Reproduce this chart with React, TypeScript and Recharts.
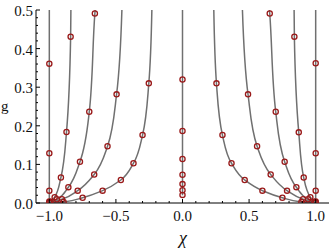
import React from 'react';
import { ComposedChart, Line, XAxis, YAxis } from 'recharts';

type P = [number, number];

// Axis ticks
const xMajor = [-1.0, -0.5, 0.0, 0.5, 1.0];
const xMinor = [-0.9, -0.8, -0.7, -0.6, -0.4, -0.3, -0.2, -0.1, 0.1, 0.2, 0.3, 0.4, 0.6, 0.7, 0.8, 0.9];
const yMajor = [0.0, 0.1, 0.2, 0.3, 0.4, 0.5];
const yMinor = [0.02, 0.04, 0.06, 0.08, 0.12, 0.14, 0.16, 0.18, 0.22, 0.24, 0.26, 0.28, 0.32, 0.34, 0.36, 0.38, 0.42, 0.44, 0.46, 0.48];

// Curves: [chi, g]; line = bottom end, markers (ascending g), top end
const c1LMarks: P[] = [[-1.0, 0.001], [-1.0, 0.004], [-1.0, 0.032], [-1.0, 0.129], [-1.0, 0.361]];
const c1LEnds: P[] = [[-1.0, 0.0], [-1.0, 0.5]];
const c2LMarks: P[] = [[-0.99, 0.003], [-0.96, 0.015], [-0.913, 0.066], [-0.871, 0.184], [-0.84, 0.431]];
const c2LEnds: P[] = [[-1.0, 0.0], [-0.838, 0.5]];
const c3LMarks: P[] = [[-0.943, 0.0096], [-0.857, 0.041], [-0.77, 0.107], [-0.7, 0.2365], [-0.658, 0.491]];
const c3LEnds: P[] = [[-1.0, 0.0], [-0.656, 0.5]];
const c4LMarks: P[] = [[-0.905, 0.0096], [-0.787, 0.032], [-0.663, 0.074], [-0.563, 0.147], [-0.495, 0.2815]];
const c4LEnds: P[] = [[-1.0, 0.0], [-0.455, 0.5]];
const c5LMarks: P[] = [[-0.893, 0.0026], [-0.75, 0.0137], [-0.6, 0.032], [-0.463, 0.0596], [-0.368, 0.103], [-0.3, 0.176], [-0.253, 0.31]];
const c5LEnds: P[] = [[-1.0, 0.0], [-0.23, 0.5]];

const c0Marks: P[] = [[0, 0.021], [0, 0.033], [0, 0.049], [0, 0.073], [0, 0.114], [0, 0.1865], [0, 0.32]];
const c0Ends: P[] = [[0, 0.02], [0, 0.5]];

const c5RMarks: P[] = [[0.893, 0.0026], [0.75, 0.0137], [0.6, 0.032], [0.467, 0.0596], [0.368, 0.103], [0.3, 0.176], [0.255, 0.31]];
const c5REnds: P[] = [[1.0, 0.0], [0.235, 0.5]];
const c4RMarks: P[] = [[0.905, 0.0096], [0.785, 0.032], [0.662, 0.074], [0.56, 0.147], [0.492, 0.2815]];
const c4REnds: P[] = [[1.0, 0.0], [0.45, 0.5]];
const c3RMarks: P[] = [[0.942, 0.0096], [0.855, 0.041], [0.767, 0.107], [0.7, 0.2365], [0.655, 0.491]];
const c3REnds: P[] = [[1.0, 0.0], [0.653, 0.5]];
const c2RMarks: P[] = [[0.99, 0.003], [0.96, 0.015], [0.91, 0.066], [0.873, 0.183], [0.84, 0.431]];
const c2REnds: P[] = [[1.0, 0.0], [0.838, 0.5]];
const c1RMarks: P[] = [[1.0, 0.001], [1.0, 0.004], [1.0, 0.032], [1.0, 0.129], [1.0, 0.362]];
const c1REnds: P[] = [[1.0, 0.0], [1.0, 0.5]];

const curves: { marks: P[]; ends: P[] }[] = [
  { marks: c1LMarks, ends: c1LEnds },
  { marks: c2LMarks, ends: c2LEnds },
  { marks: c3LMarks, ends: c3LEnds },
  { marks: c4LMarks, ends: c4LEnds },
  { marks: c5LMarks, ends: c5LEnds },
  { marks: c0Marks, ends: c0Ends },
  { marks: c5RMarks, ends: c5REnds },
  { marks: c4RMarks, ends: c4REnds },
  { marks: c3RMarks, ends: c3REnds },
  { marks: c2RMarks, ends: c2REnds },
  { marks: c1RMarks, ends: c1REnds },
];

const toPts = (a: P[]) => a.map(([x, y]) => ({ x, y }));
const lineData = (c: { marks: P[]; ends: P[] }) => toPts([c.ends[0], ...c.marks, c.ends[1]]);

const isIn = (v: number, arr: number[]) => arr.some((a) => Math.abs(a - v) < 1e-9);
const fmt = (v: number) => v.toFixed(1).replace('-', '\u2212');

const FONT = "'Liberation Serif', 'Times New Roman', Times, serif";
const LINE = '#707070';
const MARK = '#9a1a1a';

const xAll = [...xMajor, ...xMinor].sort((a, b) => a - b);
const yAll = [...yMajor, ...yMinor].sort((a, b) => a - b);

const BottomTick = (props: any) => {
  const { x, y, payload } = props;
  const major = isIn(payload.value, xMajor);
  return (
    <g>
      <line x1={x} x2={x} y1={y} y2={y - (major ? 4 : 2)} stroke="#000" strokeWidth={1} />
      {major && (
        <text x={x} y={y + 17.5} textAnchor="middle" style={{ fontFamily: FONT, fontSize: 15 }} fill="#111">
          {fmt(payload.value)}
        </text>
      )}
    </g>
  );
};
const TopTick = (props: any) => {
  const { x, y, payload } = props;
  const major = isIn(payload.value, xMajor);
  return <line x1={x} x2={x} y1={y} y2={y + (major ? 4 : 2)} stroke="#000" strokeWidth={1} />;
};
const LeftTick = (props: any) => {
  const { x, y, payload } = props;
  const major = isIn(payload.value, yMajor);
  return (
    <g>
      <line x1={x} x2={x + (major ? 4 : 2)} y1={y} y2={y} stroke="#000" strokeWidth={1} />
      {major && (
        <text x={x - 3} y={y + 6} textAnchor="end" style={{ fontFamily: FONT, fontSize: 15 }} fill="#111">
          {fmt(payload.value)}
        </text>
      )}
    </g>
  );
};
const RightTick = (props: any) => {
  const { x, y, payload } = props;
  const major = isIn(payload.value, yMajor);
  return <line x1={x} x2={x - (major ? 4 : 2)} y1={y} y2={y} stroke="#000" strokeWidth={1} />;
};

export default function App() {
  return (
    <div style={{ position: 'absolute', left: 0, top: 0, width: 333, height: 252, background: '#fff', fontFamily: FONT }}>
      <ComposedChart width={333} height={252} margin={{ top: 10, right: 4, bottom: 0, left: 0 }}>
        <XAxis
          type="number"
          dataKey="x"
          domain={[-1.1, 1.1]}
          allowDataOverflow
          ticks={xAll}
          interval={0}
          tick={BottomTick}
          tickLine={false}
          tickSize={0}
          tickMargin={0}
          height={49}
          axisLine={{ stroke: '#000' }}
        />
        <XAxis
          xAxisId="top"
          orientation="top"
          type="number"
          dataKey="x"
          domain={[-1.1, 1.1]}
          allowDataOverflow
          ticks={xAll}
          interval={0}
          tick={TopTick}
          tickLine={false}
          tickSize={0}
          tickMargin={0}
          height={0}
          axisLine={{ stroke: '#000' }}
        />
        <YAxis
          type="number"
          domain={[0, 0.5]}
          allowDataOverflow
          ticks={yAll}
          interval={0}
          tick={LeftTick}
          tickLine={false}
          tickSize={0}
          tickMargin={0}
          width={36}
          axisLine={{ stroke: '#000' }}
        />
        <YAxis
          yAxisId="right"
          orientation="right"
          type="number"
          domain={[0, 0.5]}
          allowDataOverflow
          ticks={yAll}
          interval={0}
          tick={RightTick}
          tickLine={false}
          tickSize={0}
          tickMargin={0}
          width={0}
          axisLine={{ stroke: '#000' }}
        />
        {curves.map((c, i) => (
          <Line
            key={'l' + i}
            data={lineData(c)}
            dataKey="y"
            type="monotoneY"
            stroke={LINE}
            strokeWidth={1.5}
            dot={false}
            activeDot={false}
            isAnimationActive={false}
            legendType="none"
          />
        ))}
        {curves.map((c, i) => (
          <Line
            key={'m' + i}
            data={toPts(c.marks)}
            dataKey="y"
            stroke="none"
            dot={{ r: 2.6, stroke: MARK, strokeWidth: 1.3, fill: 'none' }}
            activeDot={false}
            isAnimationActive={false}
            legendType="none"
          />
        ))}
      </ComposedChart>
      <div style={{ position: 'absolute', left: 1, top: 99, fontFamily: FONT, fontSize: 15, lineHeight: '15px', color: '#111' }}>g</div>
      <div style={{ position: 'absolute', left: 163, top: 229, width: 40, textAlign: 'center', fontFamily: FONT, fontStyle: 'italic', fontSize: 18, lineHeight: '18px', color: '#111' }}>χ</div>
    </div>
  );
}
